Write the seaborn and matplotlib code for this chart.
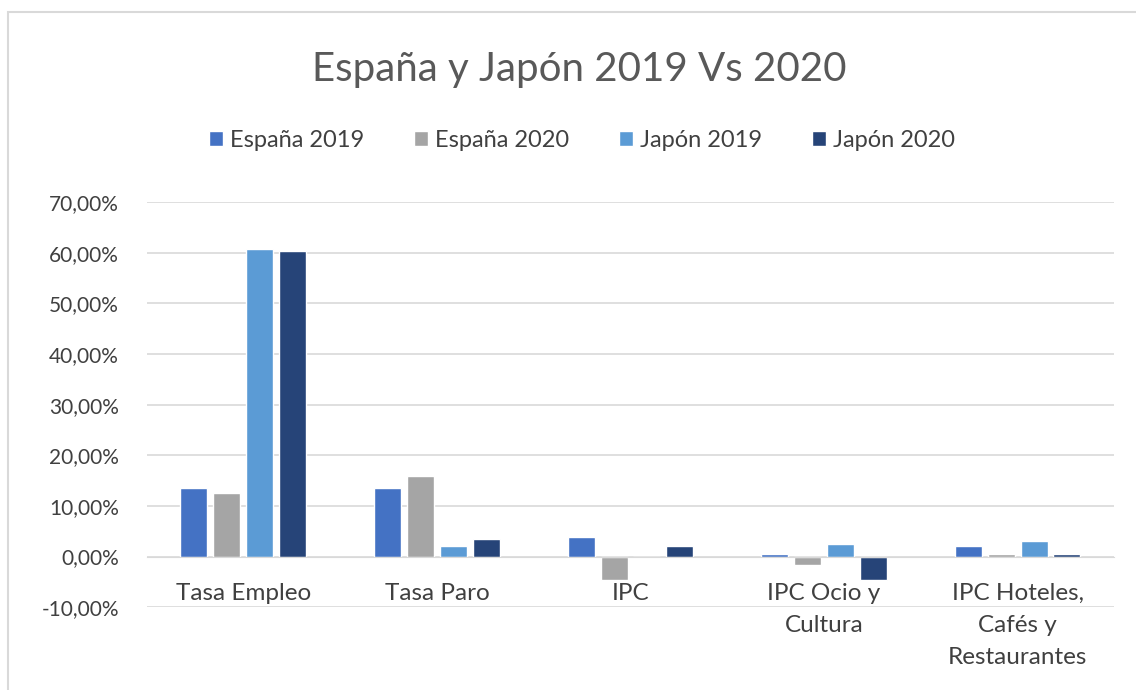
import matplotlib
matplotlib.use("Agg")
import matplotlib.pyplot as plt
import matplotlib.ticker as mticker
import seaborn as sns
import pandas as pd

# Datos (en %)
categorias = ["Tasa Empleo", "Tasa Paro", "IPC", "IPC Ocio y\nCultura", "IPC Hoteles,\nCafés y\nRestaurantes"]
series = ["España 2019", "España 2020", "Japón 2019", "Japón 2020"]
espana_2019 = [13.6, 13.6, 3.9, 0.6, 2.1]
espana_2020 = [12.6, 16.0, -4.6, -1.6, 0.6]
japon_2019 = [60.7, 2.0, 0.0, 2.5, 3.0]
japon_2020 = [60.3, 3.4, 2.1, -4.6, 0.6]
colores = ["#4472C4", "#A5A5A5", "#5B9BD5", "#264478"]

valores = [espana_2019, espana_2020, japon_2019, japon_2020]
df = pd.DataFrame([
    {"categoria": c, "serie": s, "valor": v}
    for s, vals in zip(series, valores)
    for c, v in zip(categorias, vals)
])

sns.set_style("white")
plt.rcParams['font.family'] = ['Lato', 'DejaVu Sans']

fig = plt.figure(figsize=(11.36, 6.90), dpi=100)
ax = fig.add_axes([0.129, 0.120, 0.852, 0.587])

sns.barplot(data=df, x="categoria", y="valor", hue="serie", palette=colores,
            width=0.68, gap=0.18, ax=ax, saturation=1, order=categorias, hue_order=series)

ax.set_ylim(-10, 70)
ax.yaxis.set_major_locator(mticker.MultipleLocator(10))
ax.yaxis.set_major_formatter(mticker.FuncFormatter(lambda v, p: f"{v:.2f}%".replace(".", ",")))
ax.grid(axis="y", color="#D9D9D9", linewidth=1.2)
ax.set_axisbelow(True)
for s in ["top", "right", "left"]:
    ax.spines[s].set_visible(False)
# etiquetas de categoría pegadas al eje cero, como en Excel
ax.spines["bottom"].set_position(("data", 0))
ax.spines["bottom"].set_color("#D9D9D9")
ax.tick_params(axis="x", length=0, pad=19, labelsize=17.5, labelcolor="#404040")
ax.tick_params(axis="y", length=0, pad=20, labelsize=15, labelcolor="#404040")
for lab in ax.get_xticklabels():
    lab.set_verticalalignment("top")
    lab.set_linespacing(1.65)
ax.set_xlabel("")
ax.set_ylabel("")

ax.legend(loc="center", bbox_to_anchor=(0.512, 0.797), bbox_transform=fig.transFigure,
          ncol=4, frameon=False, fontsize=17, handlelength=0.6, handleheight=0.6,
          handletextpad=0.3, columnspacing=2.1, labelcolor="#404040")

fig.suptitle("España y Japón 2019 Vs 2020", x=0.51, y=0.90, va="center", fontsize=29, color="#595959")

fig.patches.append(plt.Rectangle((0.007, -0.01), 1.0, 0.993, transform=fig.transFigure,
                                 fill=False, edgecolor="#D9D9D9", linewidth=1.5))

fig.savefig("out.png", dpi=100)
